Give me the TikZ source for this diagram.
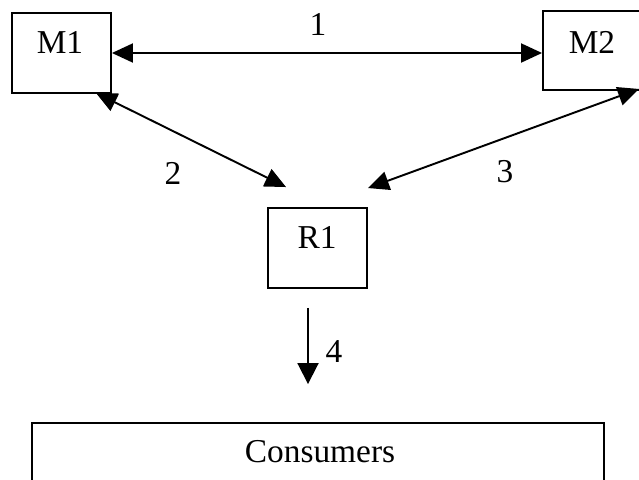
\documentclass[tikz,border=0pt]{standalone}
\usepackage{fontspec}
\setmainfont{Liberation Serif}
\usetikzlibrary{arrows.meta,calc}
\begin{document}
\begin{tikzpicture}[x=0.02cm,y=-0.02cm,
  box/.style={draw,line width=1.1pt,inner sep=0pt},
  lbl/.style={font=\fontsize{19}{21}\selectfont,inner sep=0pt},
  conn/.style={line width=1.1pt,{Triangle[length=0.42cm,width=0.38cm]}-{Triangle[length=0.42cm,width=0.38cm]}},
  oneway/.style={line width=1.1pt,-{Triangle[length=0.42cm,width=0.42cm]}}]
\useasboundingbox (0,0) rectangle (639,480);
% boxes
\node[box,minimum width=1.98cm,minimum height=1.6cm] (M1) at (61.5,53) {};
\node[box,minimum width=1.98cm,minimum height=1.58cm] (M2) at (592.5,50.5) {};
\node[box,minimum width=1.98cm,minimum height=1.6cm] (R1) at (317.5,248) {};
\node[box,minimum width=11.44cm,minimum height=1.34cm] (C) at (318,456.5) {};
% texts
\node[lbl] (M1t) at (60,42) {M1};
\node[lbl] (M2t) at (592,42) {M2};
\node[lbl] (R1t) at (317,237) {R1};
\node[lbl] (Ct) at (320,452) {Consumers};
% connector ends
\coordinate (a2s) at ($(M1.south east)+(-16,-1)$);
\coordinate (a2e) at ($(R1.north west)+(19,-20)$);
\coordinate (a3s) at ($(M2.south east)+(-4,-2)$);
\coordinate (a3e) at ($(R1.north east)+(0,-19)$);
\coordinate (a4s) at ($(R1.south)+(-9.5,19)$);
\coordinate (a4e) at ($(C.north)+(-10,-38)$);
% connectors
\draw[conn] (M1.east) -- (M1.east -| M2.west);
\draw[conn] (a2s) -- (a2e);
\draw[conn] (a3s) -- (a3e);
\draw[oneway] (a4s) -- (a4e);
% labels
\node[lbl] (l1) at (318,24) {1};
\node[lbl] (l2) at (173,173) {2};
\node[lbl] (l3) at (505,172) {3};
\node[lbl] (l4) at (334,352) {4};
\end{tikzpicture}
\end{document}
